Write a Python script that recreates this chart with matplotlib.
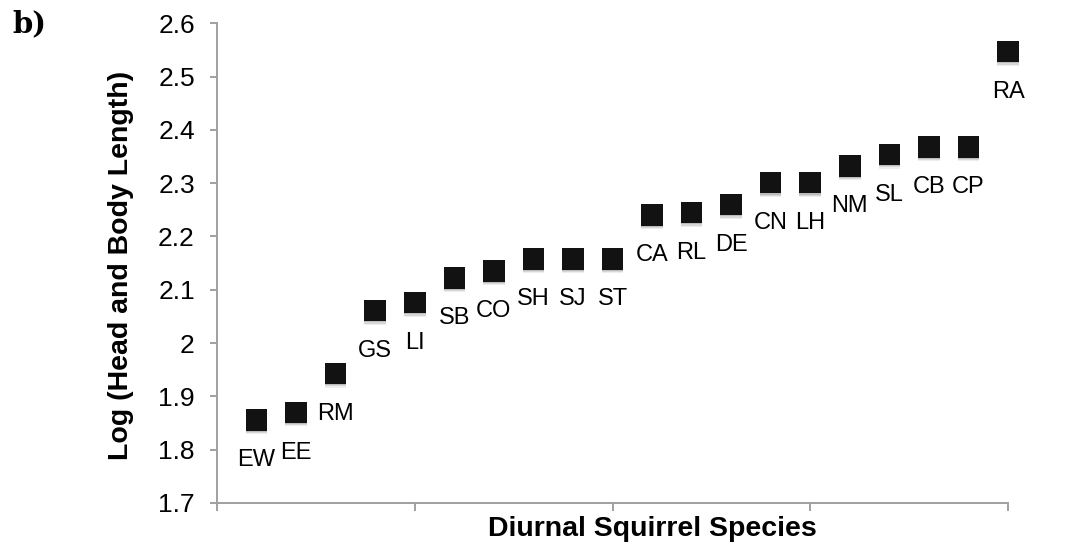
import matplotlib
matplotlib.use("Agg")
import matplotlib.pyplot as plt
import matplotlib.patheffects as pe

# species codes, ordered by body length
species = ["EW", "EE", "RM", "GS", "LI", "SB", "CO", "SH", "SJ", "ST",
           "CA", "RL", "DE", "CN", "LH", "NM", "SL", "CB", "CP", "RA"]
log_length = [1.856, 1.870, 1.943, 2.061, 2.076, 2.122, 2.135, 2.158, 2.158, 2.158,
              2.240, 2.245, 2.260, 2.301, 2.301, 2.332, 2.354, 2.368, 2.368, 2.547]
positions = list(range(1, len(species) + 1))

y_ticks = [1.7, 1.8, 1.9, 2.0, 2.1, 2.2, 2.3, 2.4, 2.5, 2.6]
y_tick_labels = ["1.7", "1.8", "1.9", "2", "2.1", "2.2", "2.3", "2.4", "2.5", "2.6"]
x_ticks = [0, 5, 10, 15, 20]

plt.rcParams["font.family"] = ["Liberation Sans", "DejaVu Sans"]

W, H = 1077, 543
fig = plt.figure(figsize=(W / 100, H / 100), dpi=100)
ax = fig.add_axes([217 / W, 1 - 503 / H, (1008 - 217) / W, (503 - 23.3) / H])

axis_grey = "#a0a0a0"

# soft drop shadow under each square, then the square itself
shadow = [
    pe.SimplePatchShadow(offset=(0, -2.4), shadow_rgbFace="#000000", alpha=0.07),
    pe.SimplePatchShadow(offset=(0, -1.6), shadow_rgbFace="#000000", alpha=0.09),
    pe.SimplePatchShadow(offset=(0, -0.8), shadow_rgbFace="#000000", alpha=0.12),
    pe.Normal(),
]
ax.plot(positions, log_length, linestyle="none", marker="s", markersize=15.5,
        color="#121212", markeredgewidth=0, clip_on=False, zorder=3,
        path_effects=shadow)

for x, y, name in zip(positions, log_length, species):
    ax.annotate(name, (x, y), xytext=(0, -29), textcoords="offset points",
                ha="center", va="center", fontsize=17, color="black")

ax.set_xlim(0, 20)
ax.set_ylim(1.7, 2.6)
ax.set_xticks(x_ticks)
ax.set_xticklabels([])
ax.set_yticks(y_ticks)
ax.set_yticklabels(y_tick_labels)

for side in ["top", "right"]:
    ax.spines[side].set_visible(False)
for side in ["left", "bottom"]:
    ax.spines[side].set_color(axis_grey)
    ax.spines[side].set_linewidth(1.4)

ax.tick_params(axis="y", direction="out", length=5, width=1.4, color=axis_grey,
               labelsize=19, labelcolor="black", pad=11)
ax.tick_params(axis="x", direction="out", length=6, width=1.4, color=axis_grey)

fig.text(652 / W, 1 - 536 / H, "Diurnal Squirrel Species", ha="center",
         va="baseline", fontsize=20.5, fontweight="bold")
fig.text(121 / W, 1 - 265 / H, "Log (Head and Body Length)", ha="center",
         va="center", rotation=90, fontsize=20.5, fontweight="bold")
fig.text(12 / W, 1 - 9 / H, "b)", ha="left", va="top", fontsize=21,
         fontweight="bold", family=["DejaVu Serif"])

fig.savefig("out.png", dpi=100, facecolor="white")
